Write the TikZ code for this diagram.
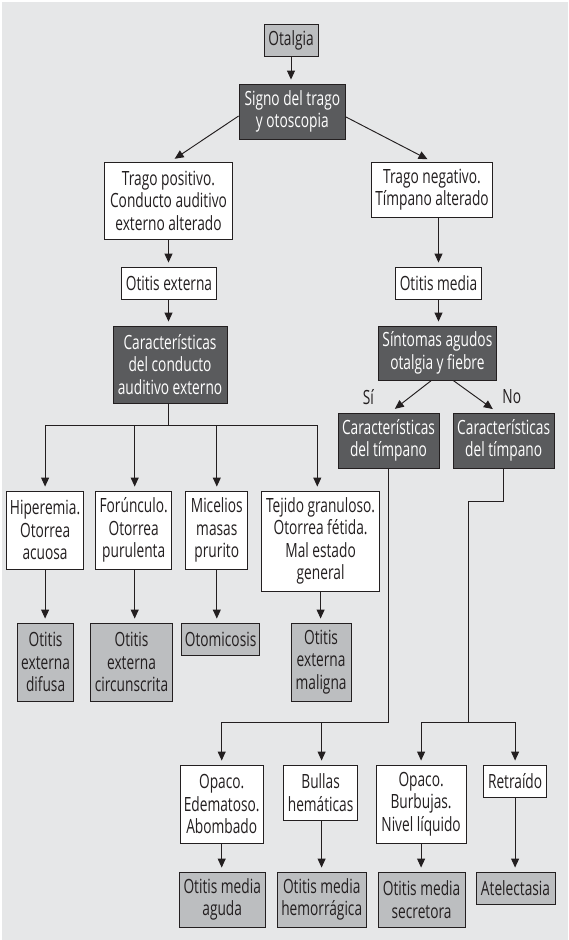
\documentclass[tikz,border=0pt]{standalone}
\usepackage{fontspec}
\setmainfont{Open Sans}[FakeStretch=0.70]
\usetikzlibrary{arrows.meta}
\definecolor{bg}{HTML}{E6E7E8}
\definecolor{midg}{HTML}{BCBEC0}
\definecolor{darkg}{HTML}{5A5B5D}
\definecolor{ink}{HTML}{231F20}
\begin{document}
\begin{tikzpicture}[x=1pt,y=-1pt,
 box/.style={draw=ink, line width=0.9pt, inner sep=0pt, align=center, font=\fontsize{19.6}{22.5}\selectfont, text=ink},
 wbox/.style={box, fill=white},
 gbox/.style={box, fill=midg},
 dbox/.style={box, fill=darkg, text=white},
 arr/.style={draw=ink, line width=0.95pt, -{Triangle[length=9pt,width=8pt]}, shorten >=4pt},
 ln/.style={draw=ink, line width=0.95pt},
 lbl/.style={font=\fontsize{19.6}{22.5}\selectfont, text=ink, inner sep=0pt}]
\useasboundingbox (0,0) rectangle (568,940);
\fill[bg] (2,2) rectangle (568,940);
% nodes
\node[gbox, minimum width=54pt, minimum height=32pt] (otalgia) at (291,40) {Otalgia};
\node[dbox, minimum width=106.5pt, minimum height=55pt] (signo) at (292.3,111.5) {Signo del trago\\y otoscopia};
\node[wbox, minimum width=128pt, minimum height=77pt] (tpos) at (168.5,200.5) {Trago positivo.\\Conducto auditivo\\externo alterado};
\node[wbox, minimum width=120.6pt, minimum height=55pt] (tneg) at (432,189.5) {Trago negativo.\\Tímpano alterado};
\node[wbox, minimum width=94.5pt, minimum height=32pt] (oext) at (169,283) {Otitis externa};
\node[wbox, minimum width=85.8pt, minimum height=32pt] (omed) at (438.5,283) {Otitis media};
\node[dbox, minimum width=114pt, minimum height=77pt] (ccae) at (170,364.5) {Características\\del conducto\\auditivo externo};
\node[dbox, minimum width=118.4pt, minimum height=54pt] (sint) at (437.4,353) {Síntomas agudos\\otalgia y fiebre};
\node[dbox, minimum width=101pt, minimum height=55pt] (ctL) at (388.5,440.5) {Características\\del tímpano};
\node[dbox, minimum width=101pt, minimum height=55pt] (ctR) at (503.7,440.5) {Características\\del tímpano};
\node[wbox, minimum width=77.2pt, minimum height=78pt] (hip) at (45.1,530) {Hiperemia.\\Otorrea\\acuosa};
\node[wbox, minimum width=76pt, minimum height=78pt] (furn) at (133.7,530) {Forúnculo.\\Otorrea\\purulenta};
\node[wbox, minimum width=62pt, minimum height=78pt] (mic) at (216.8,530) {Micelios\\masas\\prurito};
\node[wbox, minimum width=117.4pt, minimum height=100pt] (tej) at (320.6,541) {Tejido granuloso.\\Otorrea fétida.\\Mal estado\\general};
\node[gbox, minimum width=56.5pt, minimum height=78pt] (oed) at (45.6,662) {Otitis\\externa\\difusa};
\node[gbox, minimum width=82.6pt, minimum height=78pt] (oec) at (131.5,662) {Otitis\\externa\\circunscrita};
\node[gbox, minimum width=78.2pt, minimum height=32pt] (otom) at (220.6,639) {Otomicosis};
\node[gbox, minimum width=59.8pt, minimum height=78pt] (oem) at (321.1,662) {Otitis\\externa\\maligna};
\node[wbox, minimum width=82.6pt, minimum height=78pt] (ope) at (221.7,804) {Opaco.\\Edematoso.\\Abombado};
\node[wbox, minimum width=73.9pt, minimum height=55pt] (bul) at (320.6,792.5) {Bullas\\hemáticas};
\node[wbox, minimum width=90.2pt, minimum height=78pt] (opb) at (421.1,804) {Opaco.\\Burbujas.\\Nivel líquido};
\node[wbox, minimum width=63pt, minimum height=32pt] (ret) at (515.1,781) {Retraído};
\node[gbox, minimum width=85.9pt, minimum height=55pt] (oma) at (222.2,899.5) {Otitis media\\aguda};
\node[gbox, minimum width=89.1pt, minimum height=55pt] (omh) at (321.7,899.5) {Otitis media\\hemorrágica};
\node[gbox, minimum width=86.9pt, minimum height=55pt] (oms) at (421.6,899.5) {Otitis media\\secretora};
\node[gbox, minimum width=79pt, minimum height=32pt] (ate) at (515.5,888) {Atelectasia};
\node[lbl] (si) at (368.4,397) {Sí};
\node[lbl] (no) at (511.8,397) {No};
% bus coordinates
\coordinate (busC) at (0,425);
\coordinate (busT) at (0,722);
\coordinate (jog) at (468.4,501);
% connectors
\draw[arr] (otalgia.south) -- (otalgia.south |- signo.north);
\draw[arr, shorten >=5pt] ([yshift=-4.5pt]signo.west) -- ([xshift=2pt]tpos.north);
\draw[arr, shorten >=5pt] ([yshift=-5.5pt]signo.east) -- (tneg.north);
\draw[arr] (tpos.south) -- (tpos.south |- oext.north);
\draw[arr] (omed.north |- tneg.south) -- (omed.north);
\draw[arr] ([xshift=-0.5pt]oext.south) -- ([xshift=-0.5pt]oext.south |- ccae.north);
\draw[arr] (omed.south) -- (omed.south |- sint.north);
\draw[arr, shorten >=6pt] ([xshift=-6pt]sint.south) -- ([xshift=1.6pt]ctL.north);
\draw[arr, shorten >=6pt] ([xshift=15.8pt]sint.south) -- ([xshift=-6pt]ctR.north);
% conducto bus
\draw[ln] ([xshift=-1.6pt]ccae.south) -- ([xshift=-1.6pt]ccae.south |- busC);
\draw[ln] (hip.north |- busC) -- ([xshift=-3.3pt]tej.north |- busC);
\draw[arr] (hip.north |- busC) -- (hip.north);
\draw[arr] ([xshift=1pt]furn.north |- busC) -- ([xshift=1pt]furn.north);
\draw[arr] (mic.north |- busC) -- (mic.north);
\draw[arr] ([xshift=-3.3pt]tej.north |- busC) -- ([xshift=-3.3pt]tej.north);
\draw[arr] (hip.south) -- (hip.south |- oed.north);
\draw[arr] ([xshift=1pt]furn.south) -- ([xshift=1pt]furn.south |- oec.north);
\draw[arr] (mic.south) -- (mic.south |- otom.north);
\draw[arr] (tej.south) -- (tej.south |- oem.north);
% timpano buses
\draw[ln] (ctL.south) |- (ope.north |- busT);
\draw[arr] (ope.north |- busT) -- (ope.north);
\draw[arr] ([xshift=1pt]bul.north |- busT) -- ([xshift=1pt]bul.north);
\draw[ln] (ctR.south) |- (jog) -- (jog |- busT);
\draw[ln] (opb.north |- busT) -- (ret.north |- busT);
\draw[arr] (opb.north |- busT) -- (opb.north);
\draw[arr] (ret.north |- busT) -- (ret.north);
\draw[arr] (ope.south) -- (ope.south |- oma.north);
\draw[arr] ([xshift=1pt]bul.south) -- ([xshift=1pt]bul.south |- omh.north);
\draw[arr] (opb.south) -- (opb.south |- oms.north);
\draw[arr] (ret.south) -- (ret.south |- ate.north);
\end{tikzpicture}
\end{document}
